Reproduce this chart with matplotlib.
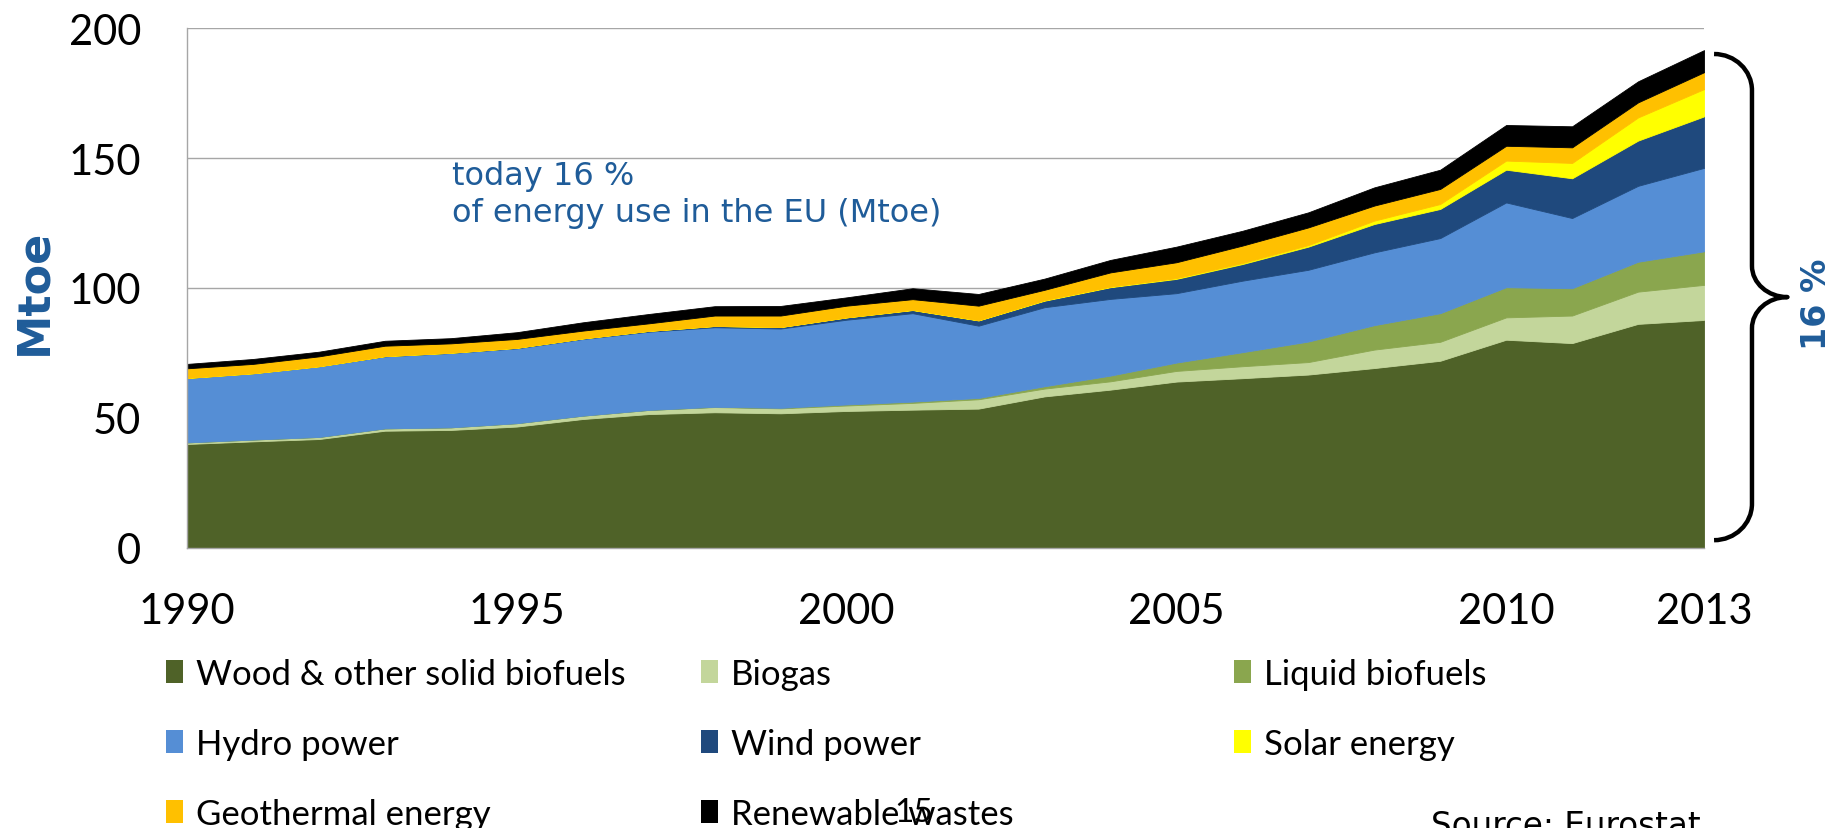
import numpy as np
import matplotlib.pyplot as plt
import matplotlib.transforms as mtransforms
from matplotlib.path import Path
from matplotlib.patches import Patch, PathPatch

# EU renewable energy use by source, Mtoe
years = list(range(1990, 2014))
wood = [40.0, 41.0, 41.9, 45.1, 45.4, 46.7, 49.6, 51.5, 52.2, 51.8, 52.7, 53.2,
        53.6, 58.3, 60.9, 64.0, 65.3, 66.7, 69.2, 72.0, 80.1, 78.8, 86.2, 87.7]
biogas = [0.6, 0.7, 0.8, 0.9, 1.0, 1.3, 1.3, 1.6, 2.0, 1.9, 2.1, 2.6,
          3.6, 3.0, 3.2, 4.1, 4.6, 4.8, 7.1, 7.3, 8.6, 10.6, 12.4, 13.5]
liquid = [0.0, 0.0, 0.0, 0.0, 0.0, 0.0, 0.0, 0.0, 0.1, 0.2, 0.4, 0.5,
          0.5, 0.9, 2.2, 3.2, 5.4, 7.9, 9.4, 11.0, 11.6, 10.5, 11.5, 12.9]
hydro = [24.8, 25.5, 27.2, 27.7, 28.6, 28.8, 29.5, 30.1, 30.6, 30.5, 32.6, 34.0,
         27.8, 30.4, 29.5, 26.7, 27.5, 27.6, 28.0, 28.9, 32.6, 27.0, 29.2, 32.1]
wind = [0.0, 0.0, 0.0, 0.1, 0.1, 0.2, 0.2, 0.3, 0.5, 0.6, 0.9, 1.2,
        2.0, 2.5, 4.5, 5.5, 6.4, 8.9, 10.9, 11.2, 12.6, 15.3, 17.4, 19.8]
solar = [0.0, 0.0, 0.0, 0.0, 0.0, 0.0, 0.0, 0.0, 0.0, 0.0, 0.0, 0.1,
         0.1, 0.2, 0.2, 0.3, 0.4, 0.6, 1.3, 1.9, 3.5, 5.9, 8.9, 10.5]
geothermal = [3.7, 3.6, 3.8, 4.0, 3.6, 3.4, 3.0, 2.9, 4.0, 4.4, 4.5, 4.1,
              5.6, 4.0, 5.5, 6.1, 6.7, 6.8, 5.8, 5.8, 5.7, 6.0, 5.8, 6.5]
wastes = [1.7, 1.9, 1.8, 1.9, 2.0, 2.6, 3.2, 3.6, 3.6, 3.7, 3.2, 4.2,
          4.5, 4.3, 4.8, 6.0, 5.7, 5.8, 7.0, 7.4, 8.0, 8.1, 8.1, 8.5]

labels = ['Wood & other solid biofuels', 'Biogas', 'Liquid biofuels',
          'Hydro power', 'Wind power', 'Solar energy',
          'Geothermal energy', 'Renewable wastes']
colors = ['#4f6228', '#c3d69b', '#8aa64e', '#558ed5',
          '#1f497d', '#ffff00', '#ffc000', '#000000']
xticks = [1990, 1995, 2000, 2005, 2010, 2013]

blue = '#1f5c99'
grid_grey = '#a6a6a6'

fig = plt.figure(figsize=(18.43, 8.29), dpi=100)
ax = fig.add_axes([0.1015, 0.3378, 0.8231, 0.6272])

polys = ax.stackplot(years, wood, biogas, liquid, hydro, wind, solar,
                     geothermal, wastes, colors=colors, zorder=2)
for p, c in zip(polys, colors):
    p.set_edgecolor(c)
    p.set_linewidth(0.6)

ax.set_xlim(1990, 2013)
ax.set_ylim(0, 200)
ax.set_yticks([0, 50, 100, 150, 200])
ax.set_xticks(xticks)
ax.grid(axis='y', color=grid_grey, linewidth=1.0, zorder=0)
ax.set_axisbelow(True)
for s in ['top', 'right']:
    ax.spines[s].set_visible(False)
for s in ['left', 'bottom']:
    ax.spines[s].set_color(grid_grey)
    ax.spines[s].set_linewidth(1.0)
ax.tick_params(axis='both', length=0, labelsize=30)
ax.tick_params(axis='y', pad=33)
ax.tick_params(axis='x', pad=32)
for lab in ax.get_xticklabels() + ax.get_yticklabels():
    lab.set_family(['Lato', 'DejaVu Sans'])

# y label and the share annotation
fig.text(34 / 1843, 1 - 292 / 829, 'Mtoe', rotation=90, ha='center', va='center',
         fontsize=32, fontweight='bold', color=blue, family='DejaVu Sans')
ax.text(452 / 1843, 1 - 195 / 829, 'today 16 %\nof energy use in the EU (Mtoe)',
        transform=fig.transFigure, ha='left', va='center', fontsize=23,
        color=blue, family='DejaVu Sans', linespacing=1.25)

# curly brace spanning the 2013 total
trans = mtransforms.blended_transform_factory(ax.transAxes, ax.transData)
x0, xs, xt = 1.0066, 1.0316, 1.055
ytop, ybot, ymid = 190, 3, 96.5
r, rt = 14, 12
k = 0.552
verts = [(x0, ytop),
         (x0 + k * (xs - x0), ytop), (xs, ytop - (1 - k) * r), (xs, ytop - r),
         (xs, ymid + rt),
         (xs, ymid + (1 - k) * rt), (xt - k * (xt - xs), ymid), (xt, ymid),
         (xt - k * (xt - xs), ymid), (xs, ymid - (1 - k) * rt), (xs, ymid - rt),
         (xs, ybot + r),
         (xs, ybot + (1 - k) * r), (x0 + k * (xs - x0), ybot), (x0, ybot)]
codes = [Path.MOVETO, Path.CURVE4, Path.CURVE4, Path.CURVE4, Path.LINETO,
         Path.CURVE4, Path.CURVE4, Path.CURVE4, Path.CURVE4, Path.CURVE4,
         Path.CURVE4, Path.LINETO, Path.CURVE4, Path.CURVE4, Path.CURVE4]
brace = PathPatch(Path(verts, codes), transform=trans, fill=False,
                  edgecolor='black', linewidth=3.2, clip_on=False,
                  capstyle='butt', joinstyle='round')
ax.add_patch(brace)
fig.text(1817 / 1843, 1 - 304 / 829, '16 %', rotation=90, ha='center',
         va='center', fontsize=24, fontweight='bold', color=blue,
         family='DejaVu Sans')

# legend: three columns placed like the original slide
handles = [Patch(facecolor=c, edgecolor='none') for c in colors]
col_x = [166, 701, 1234]
col_items = [[0, 3, 6], [1, 4, 7], [2, 5]]
for cx, idx in zip(col_x, col_items):
    fig.legend([handles[i] for i in idx], [labels[i] for i in idx],
               loc='upper left', bbox_to_anchor=(cx / 1843, 1 - 659 / 829),
               frameon=False, borderpad=0, borderaxespad=0,
               handlelength=0.5, handleheight=0.64, handletextpad=0.37,
               labelspacing=1.09, prop={'family': ['Lato', 'DejaVu Sans'],
                                        'size': 25})

fig.text(914 / 1843, 1 - 822 / 829, '15', ha='center', va='baseline',
         fontsize=24, family=['Lato', 'DejaVu Sans'])
fig.text(1431 / 1843, 1 - 836 / 829, 'Source: Eurostat', ha='left',
         va='baseline', fontsize=23.5, family='DejaVu Sans')

fig.savefig('out.png', dpi=100)
